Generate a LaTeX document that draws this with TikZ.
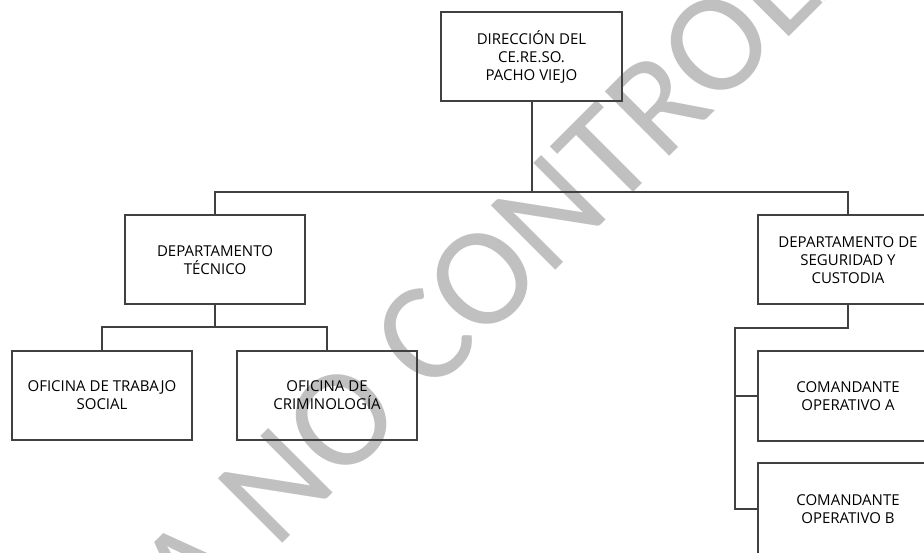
\documentclass[tikz,border=0pt]{standalone}
\usepackage{fontspec}
\setmainfont{Open Sans}
\newfontfamily\wmfont{Carlito}
\definecolor{linegray}{RGB}{64,64,64}
\definecolor{wmgray}{RGB}{192,192,192}
\tikzset{
  orgbox/.style={draw=linegray, line width=2pt, minimum width=180pt, minimum height=89pt,
    inner sep=0pt, align=center, font=\fontsize{15}{18}\selectfont, text=black},
  conn/.style={draw=linegray, line width=2pt},
  watermark/.style={text=wmgray, font=\wmfont\fontsize{142}{142}\selectfont, inner sep=0pt}
}
\begin{document}
\begin{tikzpicture}[x=1pt,y=-1pt]
\useasboundingbox (0,0) rectangle (924,553);
\clip (0,0) rectangle (924,553);
\fill[white] (0,0) rectangle (924,553);
% watermark
\node[watermark, rotate=45, anchor=base west] (wm) at (275,551) {\llap{COPIA\ }NO CONTROLADA};
% boxes
\node[orgbox, minimum width=181pt] (dir) at (531.5,56.5) {DIRECCIÓN DEL\\CE.RE.SO.\\PACHO VIEJO};
\node[orgbox] (tec) at (215,260) {DEPARTAMENTO\\TÉCNICO};
\node[orgbox] (seg) at (848,260) {DEPARTAMENTO DE\\SEGURIDAD Y\\CUSTODIA};
\node[orgbox] (ots) at (102,395.5) {OFICINA DE TRABAJO\\SOCIAL};
\node[orgbox] (ocr) at (327,395.5) {OFICINA DE\\CRIMINOLOGÍA};
\node[orgbox, minimum height=90pt] (coa) at (848,396) {COMANDANTE\\OPERATIVO A};
\node[orgbox, minimum height=92pt] (cob) at (848,509) {COMANDANTE\\OPERATIVO B};
% connectors
\coordinate (bus) at (531.5,192);
\coordinate (tbus) at (215,327.5);
\coordinate (sbus) at (735,328);
\draw[conn] (dir.south) -- (bus);
\draw[conn] (tec.north) |- (bus) -| (seg.north);
\draw[conn] (tec.south) -- (tbus);
\draw[conn] (ots.north) |- (tbus) -| (ocr.north);
\draw[conn] (seg.south) |- (sbus) |- (cob.west);
\draw[conn] (sbus |- coa.west) -- (coa.west);
\end{tikzpicture}
\end{document}
